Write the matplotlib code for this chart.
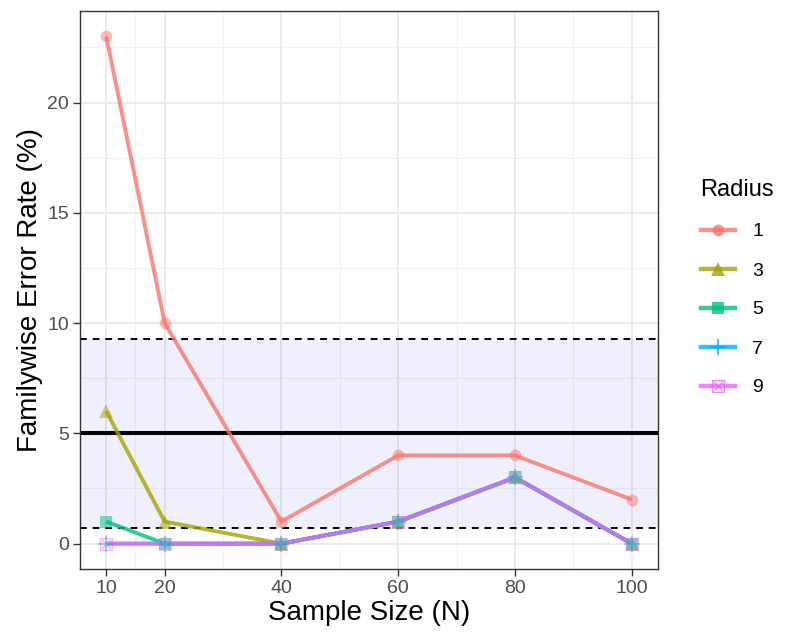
import matplotlib
matplotlib.use("Agg")
import matplotlib.pyplot as plt
from matplotlib.lines import Line2D
import numpy as np

plt.rcParams['font.family'] = ['Liberation Sans', 'DejaVu Sans']

sample_sizes = [10, 20, 40, 60, 80, 100]
radius_labels = ["1", "3", "5", "7", "9"]
err_r1 = [23, 10, 1, 4, 4, 2]
err_r3 = [6, 1, 0, 1, 3, 0]
err_r5 = [1, 0, 0, 1, 3, 0]
err_r7 = [0, 0, 0, 1, 3, 0]
err_r9 = [0, 0, 0, 1, 3, 0]
nominal = 5.0
band_low = 0.728
band_high = 9.272
x_ticks = [10, 20, 40, 60, 80, 100]
y_ticks = [0, 5, 10, 15, 20]

series = [err_r1, err_r3, err_r5, err_r7, err_r9]
colors = ["#F8766D", "#A3A500", "#00BF7D", "#00B0F6", "#E76BF3"]
markers = ["o", "^", "s", "+", "$\u22A0$"]
msizes = [8.5, 9.5, 8.5, 12, 9.5]

fig = plt.figure(figsize=(7.87, 6.37), dpi=100)
ax = fig.add_axes([80/787, 1-569/637, (658-80)/787, (569-11)/637])

xmin, xmax = 10 - 4.5, 100 + 4.5
ymin, ymax = -1.15, 24.15
ax.set_xlim(xmin, xmax)
ax.set_ylim(ymin, ymax)

# grid
for v in [15, 30, 50, 70, 90]:
    ax.axvline(v, color="#F2F2F2", lw=0.8, zorder=0)
for v in [2.5, 7.5, 12.5, 17.5, 22.5]:
    ax.axhline(v, color="#F2F2F2", lw=0.8, zorder=0)
for v in x_ticks:
    ax.axvline(v, color="#EBEBEB", lw=1.4, zorder=0)
for v in y_ticks:
    ax.axhline(v, color="#EBEBEB", lw=1.4, zorder=0)

ax.axhspan(band_low, band_high, color="#0000CC", alpha=0.06, lw=0, zorder=1)
ax.axhline(band_low, color="black", lw=1.4, ls=(0, (3.5, 3)), zorder=2)
ax.axhline(band_high, color="black", lw=1.4, ls=(0, (3.5, 3)), zorder=2)
ax.axhline(nominal, color="black", lw=2.9, zorder=2)

handles = []
for vals, c, m, ms, lab in zip(series, colors, markers, msizes, radius_labels):
    ax.plot(sample_sizes, vals, color=c, lw=2.8, alpha=0.8, zorder=3, solid_capstyle="butt")
    ax.plot(sample_sizes, vals, ls="none", marker=m, color=c, ms=ms, alpha=0.5,
            mew=1.3 if m == "+" else 0, zorder=4)
    handles.append(Line2D([], [], color=c, lw=3.2, alpha=0.8, marker=m, ms=ms,
                          markeredgewidth=1.3 if m == "+" else 0))

ax.set_xticks(x_ticks)
ax.set_yticks(y_ticks)
ax.tick_params(axis="both", colors="#333333", labelcolor="#4D4D4D", labelsize=14,
               length=5, width=1.0, pad=3)
for s in ax.spines.values():
    s.set_color("#333333")
    s.set_linewidth(1.0)

ax.set_xlabel("Sample Size (N)", fontsize=20, color="black", labelpad=2)
ax.set_ylabel("Familywise Error Rate (%)", fontsize=20, color="black", labelpad=3)

leg = fig.legend(handles, radius_labels, title="Radius", loc="upper left",
                 bbox_to_anchor=(683/787, 1-162/637), frameon=False, fontsize=14,
                 title_fontsize=17, handlelength=1.75, labelspacing=1.1,
                 handletextpad=0.9, alignment="left")

fig.savefig("out.png", dpi=100)
